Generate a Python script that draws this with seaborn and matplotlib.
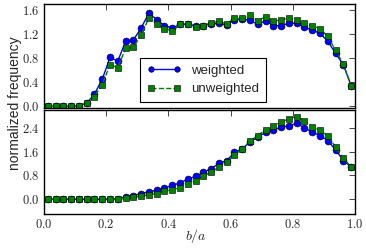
import numpy as np
import pandas as pd
import matplotlib
matplotlib.use("Agg")
import matplotlib.pyplot as plt
from matplotlib.ticker import FuncFormatter, MultipleLocator
import seaborn as sns

# bin centres of b/a (40 bins)
b_over_a = [0.0125 + 0.025 * i for i in range(40)]

top_weighted = [
    0.0, 0.0, 0.0, 0.0, 0.01, 0.05, 0.20, 0.45, 0.81, 0.75,
    1.08, 1.10, 1.30, 1.55, 1.44, 1.34, 1.30, 1.36, 1.37, 1.33,
    1.34, 1.37, 1.38, 1.35, 1.44, 1.45, 1.43, 1.36, 1.42, 1.34,
    1.34, 1.38, 1.38, 1.31, 1.27, 1.21, 1.08, 0.88, 0.69, 0.34,
]
top_unweighted = [
    0.0, 0.0, 0.0, 0.0, 0.01, 0.045, 0.16, 0.36, 0.69, 0.64,
    0.96, 0.98, 1.18, 1.47, 1.37, 1.29, 1.25, 1.36, 1.36, 1.32,
    1.34, 1.39, 1.41, 1.37, 1.46, 1.46, 1.51, 1.42, 1.49, 1.41,
    1.44, 1.46, 1.44, 1.38, 1.34, 1.29, 1.16, 0.93, 0.70, 0.34,
]
bottom_weighted = [
    0.0, 0.0, 0.0, 0.0, 0.0, 0.0, 0.0, 0.0, 0.0, 0.02,
    0.06, 0.12, 0.19, 0.25, 0.30, 0.38, 0.46, 0.55, 0.67, 0.77,
    0.90, 1.03, 1.20, 1.30, 1.57, 1.69, 1.93, 2.08, 2.25, 2.33,
    2.42, 2.47, 2.55, 2.40, 2.25, 2.14, 1.97, 1.66, 1.30, 1.08,
]
bottom_unweighted = [
    0.0, 0.0, 0.0, 0.0, 0.0, 0.0, 0.0, 0.0, 0.0, 0.01,
    0.03, 0.06, 0.10, 0.14, 0.19, 0.27, 0.31, 0.39, 0.52, 0.61,
    0.77, 0.91, 1.08, 1.25, 1.50, 1.69, 1.95, 2.14, 2.34, 2.46,
    2.59, 2.70, 2.78, 2.62, 2.44, 2.31, 2.13, 1.75, 1.38, 1.08,
]

sns.set_style("white")
plt.rcParams["font.family"] = ["Liberation Sans", "DejaVu Sans"]
plt.rcParams["mathtext.fontset"] = "cm"
plt.rcParams["xtick.direction"] = "in"
plt.rcParams["ytick.direction"] = "in"

fig = plt.figure(figsize=(3.66, 2.48), dpi=100)
ax1 = fig.add_axes([0.120, 0.5645, 0.850, 0.4195])
ax2 = fig.add_axes([0.120, 0.137, 0.850, 0.4195])

panels = [
    (ax1, top_weighted, top_unweighted, (-0.03, 1.7), 0.4),
    (ax2, bottom_weighted, bottom_unweighted, (-0.5, 3.0), 0.8),
]

math_fmt = FuncFormatter(lambda v, p: f"${v:.1f}$")

for ax, w, u, ylim, step in panels:
    df = pd.DataFrame({"b_over_a": b_over_a, "weighted": w, "unweighted": u})
    sns.lineplot(data=df, x="b_over_a", y="weighted", ax=ax, color="b",
                 marker="o", markersize=5, markeredgecolor="k",
                 markeredgewidth=0.4, linewidth=1, label="weighted")
    sns.lineplot(data=df, x="b_over_a", y="unweighted", ax=ax, color="g",
                 marker="s", markersize=5, markeredgecolor="k",
                 markeredgewidth=0.4, linewidth=1, linestyle="--",
                 label="unweighted")
    ax.set_xlim(0, 1)
    ax.set_ylim(*ylim)
    ax.yaxis.set_major_locator(MultipleLocator(step))
    ax.xaxis.set_major_locator(MultipleLocator(0.2))
    ax.yaxis.set_major_formatter(math_fmt)
    ax.xaxis.set_major_formatter(math_fmt)
    ax.tick_params(top=True, right=True, length=4, width=0.6,
                   labelsize=9, pad=3)
    for s in ax.spines.values():
        s.set_color("k")
        s.set_linewidth(1)
    ax.set_xlabel("")
    ax.set_ylabel("")

ax1.set_yticks([0.0, 0.4, 0.8, 1.2, 1.6])
ax2.set_yticks([0.0, 0.8, 1.6, 2.4])
ax1.tick_params(labelbottom=False)
ax2.get_legend().remove()

leg = ax1.legend(loc="lower left", bbox_to_anchor=(0.309, 0.058),
                 borderaxespad=0, fontsize=9.5, numpoints=2,
                 handlelength=2.6, markerscale=0.8, fancybox=False,
                 framealpha=1, edgecolor="k", borderpad=0.5,
                 labelspacing=0.5)
leg.get_frame().set_linewidth(0.8)

fig.text(196 / 366, 0.048, "$b/a$", ha="center", va="center", fontsize=10)
fig.text(0.041, 0.585, "normalized frequency", rotation=90,
         ha="center", va="center", fontsize=10)

fig.savefig("out.png", dpi=100)
